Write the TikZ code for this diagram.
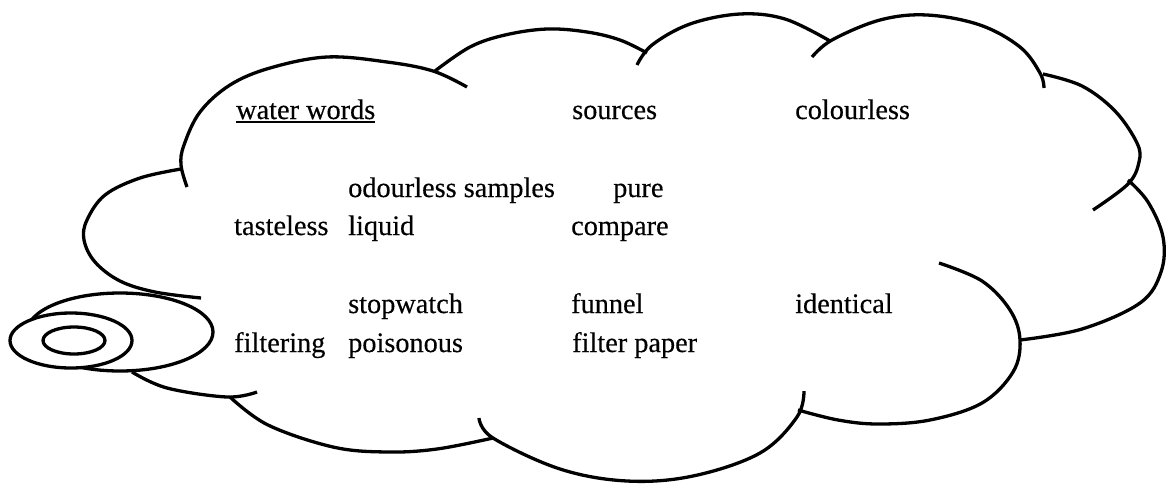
\documentclass[tikz,border=0pt]{standalone}
\usepackage{fontspec}
\setmainfont{Liberation Serif}[FakeBold=0.35]
\newcommand{\ulword}[1]{\setbox0\hbox{#1}\rlap{\rule[-4.4pt]{\wd0}{2.6pt}}\box0}
\begin{document}
\begin{tikzpicture}[x=1pt,y=-1pt,
  arc/.style={draw=black,line width=3.3pt},
  bubble/.style={draw=black,line width=3.3pt},
  word/.style={anchor=base west,inner sep=0pt,font=\fontsize{28.3}{34}\selectfont}]
\useasboundingbox (0,0) rectangle (1167,483);
% cloud outline, bump by bump
\draw[arc] plot[smooth,tension=0.6] coordinates {(187,187) (181,165) (184,145) (200,112) (230,85) (270,68) (327,57) (387,62) (433,71) (467,87)};
\draw[arc] plot[smooth,tension=0.6] coordinates {(435,71) (470,47) (505,35) (547,29) (587,32) (620,40) (647,53)};
\draw[arc] plot[smooth,tension=0.6] coordinates {(637,65) (652,45) (690,24) (740,14) (785,19) (830,41)};
\draw[arc] plot[smooth,tension=0.6] coordinates {(812,57) (832,40) (880,20) (927,15) (980,25) (1020,47) (1040,73) (1044,88)};
\draw[arc] plot[smooth,tension=0.6] coordinates {(1043,74) (1082,86) (1115,111) (1137,143) (1139,162) (1128,184) (1093,210)};
\draw[arc] plot[smooth,tension=0.6] coordinates {(1128,180) (1148,202) (1163,237) (1161,272) (1140,303) (1082,329) (1020,340)};
\draw[arc] plot[smooth,tension=0.6] coordinates {(939,263) (982,281) (1010,310) (1020,340) (1013,372) (982,403) (930,420) (878,424) (838,420) (798,410)};
\draw[arc] plot[smooth,tension=0.6] coordinates {(804,391) (797,417) (760,453) (693,476) (627,481) (560,469) (493,438) (479,418)};
\draw[arc] plot[smooth,tension=0.6] coordinates {(230,397) (268,425) (333,447) (387,452) (437,449) (493,438)};
\draw[arc] plot[smooth,tension=0.6] coordinates {(132,372) (167,388) (227,397) (257,392)};
\draw[arc] plot[smooth,tension=0.6] coordinates {(181,169) (140,178) (105,195) (87,220) (84,240) (95,262) (120,281) (155,292) (201,298)};
% thought bubbles
\draw[bubble] (120,332) ellipse [x radius=93, y radius=39];
\draw[bubble,fill=white] (71,340.5) ellipse [x radius=61, y radius=27.5];
\draw[bubble] (74,340.5) ellipse [x radius=31, y radius=13.5];
% words
\node[word] (ww) at (236,119) {\ulword{water words}};
\node[word] (src) at (572,119) {sources};
\node[word] (col) at (795,119) {colourless};
\node[word] (odo) at (348,197) {odourless samples};
\node[word] (pur) at (613,197) {pure};
\node[word] (tas) at (234,235) {tasteless};
\node[word] (liq) at (348,235) {liquid};
\node[word] (cmp) at (571,235) {compare};
\node[word] (stp) at (348,313) {stopwatch};
\node[word] (fun) at (571,313) {funnel};
\node[word] (ide) at (795,313) {identical};
\node[word] (fil) at (234,352) {filtering};
\node[word] (poi) at (348,352) {poisonous};
\node[word] (fpp) at (572,352) {filter paper};
\end{tikzpicture}
\end{document}
